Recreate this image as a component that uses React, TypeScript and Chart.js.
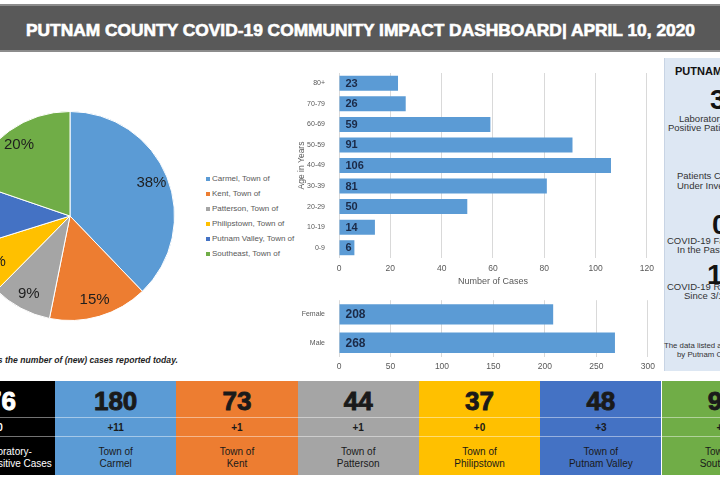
import React, { useEffect, useRef } from 'react';
import { Chart, registerables } from 'chart.js';

Chart.register(...registerables);
Chart.defaults.font.family = '"Liberation Sans", Arial, sans-serif';

// ---------- data ----------
const towns = ['Carmel', 'Kent', 'Patterson', 'Philipstown', 'Putnam Valley', 'Southeast'];
const townCases = [180, 73, 44, 37, 48, 94];
const townNew = [11, 1, 1, 0, 3, 4];
const townColors = ['#5B9BD5', '#ED7D31', '#A5A5A5', '#FFC000', '#4472C4', '#70AD47'];

const ageGroups = ['80+', '70-79', '60-69', '50-59', '40-49', '30-39', '20-29', '10-19', '0-9'];
const ageCases = [23, 26, 59, 91, 106, 81, 50, 14, 6];
const ageAxisMax = 120;
const ageAxisStep = 20;

const genders = ['Female', 'Male'];
const genderCases = [208, 268];
const genderAxisMax = 300;
const genderAxisStep = 50;

const totalCases = townCases.reduce((a, b) => a + b, 0);
const totalNew = townNew.reduce((a, b) => a + b, 0);

const TITLE = 'PUTNAM COUNTY COVID-19 COMMUNITY IMPACT DASHBOARD| APRIL 10, 2020';

// ---------- plugins ----------
const pieLabels = {
  id: 'pieLabels',
  afterDatasetsDraw(chart: any) {
    const ctx = chart.ctx;
    const meta = chart.getDatasetMeta(0);
    const data = chart.data.datasets[0].data as number[];
    const total = data.reduce((a, b) => a + b, 0);
    ctx.save();
    ctx.font = '15px "Liberation Sans", Arial, sans-serif';
    ctx.fillStyle = '#1e1e1e';
    ctx.textAlign = 'center';
    ctx.textBaseline = 'middle';
    let cum = 0;
    meta.data.forEach((arc: any, i: number) => {
      const p = arc.getProps(['x', 'y', 'outerRadius'], true);
      const a0 = -Math.PI / 2 + (cum / total) * Math.PI * 2;
      cum += data[i];
      const a1 = -Math.PI / 2 + (cum / total) * Math.PI * 2;
      const mid = (a0 + a1) / 2;
      const r = p.outerRadius * 0.84;
      ctx.fillText(Math.round((data[i] / total) * 100) + '%', p.x + Math.cos(mid) * r, p.y + Math.sin(mid) * r);
    });
    ctx.restore();
  },
};

const barLabels = {
  id: 'barLabels',
  afterDatasetsDraw(chart: any, _args: any, opts: any) {
    const ctx = chart.ctx;
    const meta = chart.getDatasetMeta(0);
    const data = chart.data.datasets[0].data as number[];
    ctx.save();
    ctx.font = `bold ${opts.size || 11}px "Liberation Sans", Arial, sans-serif`;
    ctx.fillStyle = '#1b2a47';
    ctx.textAlign = 'left';
    ctx.textBaseline = 'middle';
    meta.data.forEach((bar: any, i: number) => {
      const p = bar.getProps(['base', 'y'], true);
      ctx.fillText(String(data[i]), p.base + 6, p.y + 0.5);
    });
    ctx.restore();
  },
};

function barConfig(
  labels: string[],
  values: number[],
  max: number,
  step: number,
  padTop: number,
  xHeight: number,
  tickPad: number,
  barPct: number,
  labelSize: number,
  xTitle: string | null,
  yTitle: string | null
): any {
  return {
    type: 'bar',
    data: {
      labels,
      datasets: [
        {
          data: values,
          backgroundColor: '#5B9BD5',
          borderWidth: 0,
          categoryPercentage: 1,
          barPercentage: barPct,
        },
      ],
    },
    options: {
      indexAxis: 'y',
      responsive: false,
      animation: false,
      layout: { padding: { top: padTop, right: 12, left: 0, bottom: 0 } },
      plugins: {
        legend: { display: false },
        tooltip: { enabled: false },
        barLabels: { size: labelSize },
      },
      scales: {
        x: {
          min: 0,
          max,
          ticks: { stepSize: step, color: '#595959', font: { size: 8.5 }, padding: tickPad },
          grid: { color: '#d9d9d9', drawTicks: false },
          border: { display: false },
          afterFit: (s: any) => {
            s.height = xHeight;
          },
          title: xTitle
            ? { display: true, text: xTitle, color: '#595959', font: { size: 9 }, padding: { top: 0, bottom: 3 } }
            : { display: false },
        },
        y: {
          ticks: { color: '#595959', font: { size: 7 }, padding: 6 },
          grid: { display: false },
          border: { display: false },
          afterFit: (s: any) => {
            s.width = 49;
          },
          title: yTitle
            ? { display: true, text: yTitle, color: '#595959', font: { size: 8.5 }, padding: { top: 6.5, bottom: 0 } }
            : { display: false },
        },
      },
    },
    plugins: [barLabels],
  };
}

function ChartBox({ left, top, width, height, make }: { left: number; top: number; width: number; height: number; make: () => any }) {
  const ref = useRef<HTMLCanvasElement>(null);
  useEffect(() => {
    const ch = new Chart(ref.current as HTMLCanvasElement, make());
    return () => ch.destroy();
  }, []);
  return (
    <canvas
      ref={ref}
      width={width}
      height={height}
      style={{ position: 'absolute', left, top, width, height }}
    />
  );
}

const abs = (s: React.CSSProperties): React.CSSProperties => ({ position: 'absolute', ...s });

export default function App() {
  const colW = 121.3;
  const firstLeft = 55 - colW;
  const boxTop = 381;
  const r1 = 36;
  const r2 = 19;
  const r3 = 39;
  const columns = [
    {
      color: '#000000',
      text: '#ffffff',
      big: String(totalCases),
      small: '+' + totalNew,
      line1: 'Total Laboratory-',
      line2: 'Confirmed Positive Cases',
    },
    ...towns.map((t, i) => ({
      color: townColors[i],
      text: '#1a1a1a',
      big: String(townCases[i]),
      small: '+' + townNew[i],
      line1: 'Town of',
      line2: t,
    })),
  ];

  const panelSmall: React.CSSProperties = { fontSize: 9.5, color: '#333', whiteSpace: 'nowrap', lineHeight: '10px' };
  const panelBig: React.CSSProperties = { fontSize: 28, fontWeight: 'bold', color: '#111', whiteSpace: 'nowrap', lineHeight: '28px' };

  return (
    <div
      style={{
        position: 'fixed',
        left: 0,
        top: 0,
        width: 720,
        height: 480,
        overflow: 'hidden',
        background: '#ffffff',
        fontFamily: '"Liberation Sans", Arial, sans-serif',
      }}
    >
      {/* header */}
      <div
        style={abs({
          left: 0,
          top: 4,
          width: 720,
          height: 48,
          background: '#595959',
          borderTop: '2px solid #8c8c8c',
          borderBottom: '2px solid #8c8c8c',
          boxSizing: 'border-box',
        })}
      >
        <svg width={720} height={44} style={{ position: 'absolute', left: 0, top: 0 }}>
          <text
            x={26}
            y={29.5}
            textLength={669}
            lengthAdjust="spacingAndGlyphs"
            fill="#ffffff"
            stroke="#ffffff"
            strokeWidth={0.6}
            style={{ fontFamily: '"Liberation Sans", Arial, sans-serif', fontWeight: 'bold', fontSize: 16.5 }}
          >
            {TITLE}
          </text>
        </svg>
      </div>

      {/* pie */}
      <ChartBox
        left={-40}
        top={106}
        width={220}
        height={220}
        make={() => ({
          type: 'pie',
          data: {
            labels: towns,
            datasets: [{ data: townCases, backgroundColor: townColors, borderColor: '#ffffff', borderWidth: 1 }],
          },
          options: {
            responsive: false,
            animation: false,
            layout: { padding: 5 },
            plugins: { legend: { display: false }, tooltip: { enabled: false } },
          },
          plugins: [pieLabels],
        })}
      />

      {/* pie legend */}
      {towns.map((t, i) => (
        <div key={t} style={abs({ left: 206, top: 179 + i * 15 - 5, height: 10, display: 'flex', alignItems: 'center', whiteSpace: 'nowrap' })}>
          <div style={{ width: 4, height: 4, background: townColors[i], marginRight: 2 }} />
          <span style={{ fontSize: 8, color: '#595959', lineHeight: '10px' }}>{t}, Town of</span>
        </div>
      ))}

      {/* caption */}
      <svg width={200} height={20} style={{ position: 'absolute', left: 0, top: 352 }}>
        <text
          x={178}
          y={11}
          textAnchor="end"
          fill="#1e1e1e"
          style={{ fontFamily: '"Liberation Sans", Arial, sans-serif', fontStyle: 'italic', fontWeight: 'bold', fontSize: 8.6 }}
        >
          The (+) represents the number of (new) cases reported today.
        </text>
      </svg>

      {/* age chart */}
      <ChartBox
        left={290}
        top={60}
        width={370}
        height={230}
        make={() =>
          barConfig(ageGroups, ageCases, ageAxisMax, ageAxisStep, 13, 32, 6, 0.73, 11, 'Number of Cases', 'Age in Years')
        }
      />

      {/* gender chart */}
      <ChartBox
        left={290}
        top={290}
        width={370}
        height={90}
        make={() => barConfig(genders, genderCases, genderAxisMax, genderAxisStep, 9, 23, 5, 0.72, 12, null, null)}
      />

      {/* right panel */}
      <div
        style={abs({
          left: 664,
          top: 58,
          width: 120,
          height: 313,
          background: '#dde7f3',
          borderLeft: '1px solid #c8d4e4',
        })}
      />
      <div style={abs({ left: 675, top: 65, fontSize: 11, fontWeight: 'bold', color: '#111', whiteSpace: 'nowrap' })}>PUTNAM COUNTY</div>
      <div style={abs({ left: 710, top: 86, ...panelBig })}>3</div>
      <div style={abs({ left: 679, top: 114, ...panelSmall })}>Laboratory-Confirmed</div>
      <div style={abs({ left: 668, top: 123, ...panelSmall })}>Positive Patients</div>
      <div style={abs({ left: 677, top: 171, ...panelSmall })}>Patients Currently</div>
      <div style={abs({ left: 677, top: 181, ...panelSmall })}>Under Investigation</div>
      <div style={abs({ left: 712, top: 211, ...panelBig })}>0</div>
      <div style={abs({ left: 667, top: 236, ...panelSmall })}>COVID-19 Fatalities</div>
      <div style={abs({ left: 677, top: 245, ...panelSmall })}>In the Past 24 Hours</div>
      <div style={abs({ left: 707, top: 261, ...panelBig })}>1</div>
      <div style={abs({ left: 667, top: 282, ...panelSmall })}>COVID-19 Recoveries</div>
      <div style={abs({ left: 684, top: 291, ...panelSmall })}>Since 3/1/2020</div>
      <div style={abs({ left: 664, top: 341, ...panelSmall, fontSize: 7.8 })}>The data listed above is provided</div>
      <div style={abs({ left: 677, top: 350, ...panelSmall, fontSize: 7.8 })}>by Putnam County DOH</div>

      {/* bottom boxes */}
      {columns.map((c, i) => (
        <div
          key={i}
          style={abs({
            left: firstLeft + i * colW,
            top: boxTop,
            width: colW,
            height: r1 + r2 + r3,
            background: c.color,
            color: c.text,
            textAlign: 'center',
          })}
        >
          <div
            style={{
              height: r1,
              lineHeight: r1 + 'px',
              fontSize: 26,
              fontWeight: 'bold',
              WebkitTextStroke: '0.9px ' + c.text,
              paddingTop: 2,
              boxSizing: 'border-box',
            }}
          >
            {c.big}
          </div>
          <div
            style={{
              height: r2,
              lineHeight: r2 + 'px',
              fontSize: 10,
              fontWeight: 'bold',
              borderTop: '1px solid rgba(255,255,255,0.45)',
              boxSizing: 'border-box',
            }}
          >
            {c.small}
          </div>
          <div
            style={{
              height: r3,
              fontSize: 10,
              lineHeight: '11.5px',
              borderTop: '1px solid rgba(255,255,255,0.45)',
              boxSizing: 'border-box',
              paddingTop: 9,
              whiteSpace: 'nowrap',
            }}
          >
            {c.line1}
            <br />
            {c.line2}
          </div>
        </div>
      ))}
    </div>
  );
}
